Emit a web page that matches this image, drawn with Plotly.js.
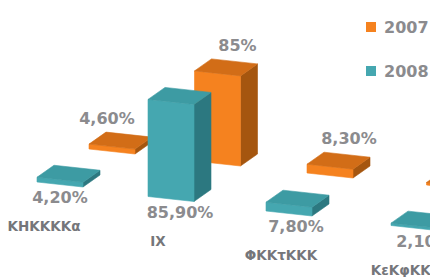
<!DOCTYPE html>
<html><head><meta charset="utf-8">
<script src="https://cdn.plot.ly/plotly-3.0.1.min.js"></script>
<style>html,body{margin:0;padding:0;background:#fff}</style>
</head><body><div id="chart" style="width:430px;height:277px"></div>
<script>
const categories = ["ΚΗΚΚΚΚα", "ΙΧ", "ΦΚΚτΚΚΚ", "ΚεΚφΚΚΚ"];
const seriesNames = ["2008", "2007"];
const values2008 = [4.2, 85.9, 7.8, 2.1];
const values2007 = [4.6, 85, 8.3, 2.4];
const labels2008 = ["4,20%", "85,90%", "7,80%", "2,10%"];
const labels2007 = ["4,60%", "85%", "8,30%", ""];

// oblique 3D projection into a pixel-like plot space (layout only)
const W = 46, TILT = 5, DX = 17, DY = -12;
const K = [1.13, 1.06];
const nudge2008 = [0, 9, 7, 10];
const nudge2007 = [-11, 14, 13, 0];
const nudgeCat = [-2, 1, 6, 6];
function base(i, j) {
  return [37 + 107.5*i + 3.5*i*i + j*(52 - 5.5*i), 182 + 14.5*i + j*(-33 - 2.5*i)];
}
const colors = [
  {front:'#45a7b0', top:'#3d9ba3', side:'#2c7880'},
  {front:'#f5821f', top:'#d26d17', side:'#a5560f'}
];
const traces = [];
function poly(pts, color) {
  traces.push({type:'scatter', mode:'lines', fill:'toself', fillcolor:color,
    x: pts.map(p=>p[0]).concat([pts[0][0]]), y: pts.map(p=>p[1]).concat([pts[0][1]]),
    line:{color:color, width:0.6}, hoverinfo:'skip', showlegend:false});
}
const series = [values2008, values2007];
[1, 0].forEach(j => {
  series[j].forEach((v, i) => {
    const [bx, by] = base(i, j);
    const h = v * K[j];
    const FBL=[bx,by], FBR=[bx+W,by+TILT], FTL=[bx,by-h], FTR=[bx+W,by+TILT-h];
    const BTL=[FTL[0]+DX,FTL[1]+DY], BTR=[FTR[0]+DX,FTR[1]+DY], BBR=[FBR[0]+DX,FBR[1]+DY];
    const c = colors[j];
    poly([FBR, FTR, BTR, BBR], c.side);
    poly([FBL, FBR, FTR, FTL], c.front);
    poly([FTL, FTR, BTR, BTL], c.top);
  });
});
// value labels
const lblFont = {family:'DejaVu Sans', size:16, color:'#8b8b8e', weight:'bold'};
const lx=[], ly=[], lt=[];
values2008.forEach((v,i)=>{ const [bx,by]=base(i,0); lx.push(bx+W/2+nudge2008[i]); ly.push(by+17); lt.push(labels2008[i]); });
values2007.forEach((v,i)=>{ if(!labels2007[i]) return; const [bx,by]=base(i,1); const h=v*K[1]; lx.push(bx+W/2+6+nudge2007[i]); ly.push(by-h+DY-12); lt.push(labels2007[i]); });
traces.push({type:'scatter', mode:'text', x:lx, y:ly, text:lt, textfont:lblFont, hoverinfo:'skip', showlegend:false, cliponaxis:false});
// category labels
traces.push({type:'scatter', mode:'text', x:categories.map((c,i)=>base(i,0)[0]+9+nudgeCat[i]), y:categories.map((c,i)=>base(i,0)[1]+46),
  text:categories, textfont:{family:'DejaVu Sans', size:13.5, color:'#75767a', weight:'bold'}, hoverinfo:'skip', showlegend:false});
// legend keys
traces.push({type:'scatter', mode:'markers', x:[371, 371], y:[27, 71],
  marker:{symbol:'square', size:10, color:[colors[1].front, colors[0].front]}, hoverinfo:'skip', showlegend:false});

Plotly.newPlot('chart', traces, {
  width:430, height:277, margin:{l:0,r:0,t:0,b:0},
  paper_bgcolor:'#fff', plot_bgcolor:'#fff', showlegend:false,
  xaxis:{range:[0,430], visible:false, fixedrange:true},
  yaxis:{range:[277,0], visible:false, fixedrange:true},
  annotations:[
    {x:382, y:27, xref:'x', yref:'y', xanchor:'left', yanchor:'middle', text:seriesNames[1], showarrow:false, font:lblFont},
    {x:382, y:71, xref:'x', yref:'y', xanchor:'left', yanchor:'middle', text:seriesNames[0], showarrow:false, font:lblFont}
  ]
}, {staticPlot:true, displayModeBar:false});
</script></body></html>
